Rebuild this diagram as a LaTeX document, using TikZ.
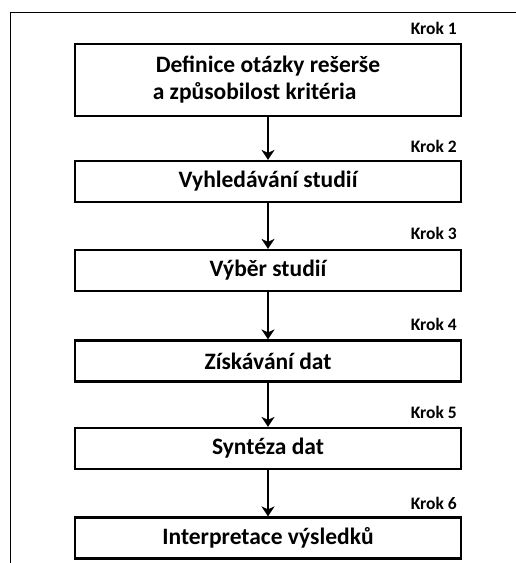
\documentclass[tikz,border=0pt]{standalone}
\usepackage{fontspec}
\setmainfont{Carlito}
\usetikzlibrary{arrows.meta}

\begin{document}
\begin{tikzpicture}[x=1pt, y=1pt,
    stepbox/.style={draw=black, line width=2.2pt, minimum width=386pt, minimum height=41pt, inner sep=2pt, font=\bfseries\fontsize{23.5}{27}\selectfont},
    kroklabel/.style={anchor=base east, inner sep=0pt, font=\bfseries\fontsize{17.5}{20}\selectfont},
    arr/.style={line width=2pt, -{Stealth[length=10pt, width=13pt, inset=3pt]}}
    ]
    \useasboundingbox (0,0) rectangle (516,-563);
    % frame
    \draw [line width=1.5pt] (516,-12.5) -- (10.5,-12.5) -- (10.5,-563);

    \node [stepbox, minimum height=72pt, align=left] (b1) at (268,-80) {Definice otázky rešerše\\\hspace*{-3pt}a způsobilost kritéria};
    \node [kroklabel] (k1) at (457,-34) {Krok 1};

    \node [stepbox] (b2) at (268,-181.5) {Vyhledávání studií};
    \node [kroklabel] (k2) at (457,-152) {Krok 2};

    \node [stepbox] (b3) at (268,-270.5) {Výběr studií};
    \node [kroklabel] (k3) at (457,-239) {Krok 3};

    \node [stepbox] (b4) at (268,-361) {Získávání dat};
    \node [kroklabel] (k4) at (457,-330) {Krok 4};

    \node [stepbox] (b5) at (268,-448.5) {Syntéza dat};
    \node [kroklabel] (k5) at (457,-418) {Krok 5};

    \node [stepbox] (b6) at (268,-538) {Interpretace výsledků};
    \node [kroklabel] (k6) at (457,-509) {Krok 6};

    \draw [arr] (b1) -- (b2);
    \draw [arr] (b2) -- (b3);
    \draw [arr] (b3) -- (b4);
    \draw [arr] (b4) -- (b5);
    \draw [arr] (b5) -- (b6);
\end{tikzpicture}
\end{document}
